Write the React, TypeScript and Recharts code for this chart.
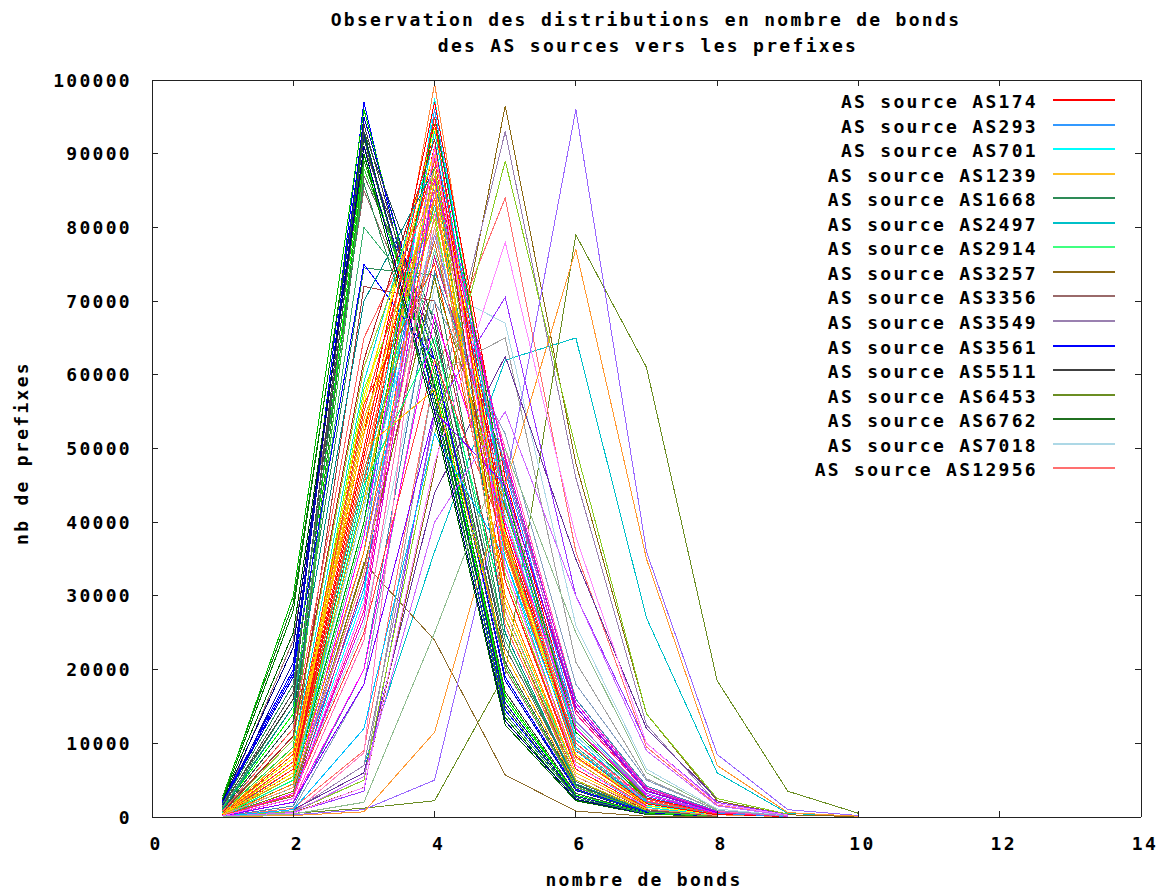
import React from 'react';
import { LineChart, Line, XAxis, YAxis, Legend } from 'recharts';

const hops = [1, 2, 3, 4, 5, 6, 7, 8, 9, 10, 11];
const xTicks = [0, 2, 4, 6, 8, 10, 12, 14];
const yTicks = [0, 10000, 20000, 30000, 40000, 50000, 60000, 70000, 80000, 90000, 100000];

const titleLines = ['Observation des distributions en nombre de bonds', 'des AS sources vers les prefixes'];
const xLabel = 'nombre de bonds';
const yLabel = 'nb de prefixes';

const legendNames = [
  'AS source AS174', 'AS source AS293', 'AS source AS701', 'AS source AS1239',
  'AS source AS1668', 'AS source AS2497', 'AS source AS2914', 'AS source AS3257',
  'AS source AS3356', 'AS source AS3549', 'AS source AS3561', 'AS source AS5511',
  'AS source AS6453', 'AS source AS6762', 'AS source AS7018', 'AS source AS12956',
];
const legendColors = [
  '#ff0000', '#3399ff', '#00ffff', '#ffc125', '#2e8b57', '#00c0c8', '#40ff80', '#8b6914',
  '#9a6a6a', '#9a80b0', '#0000ff', '#404040', '#6b8e23', '#207020', '#add8e6', '#ff7070',
];
const legendValues = [
  [400, 6000, 45000, 94000, 40000, 9500, 2000, 400, 80],
  [300, 4500, 36000, 96000, 43000, 11000, 2500, 500, 100],
  [200, 3000, 30000, 97500, 41000, 9000, 1600, 300],
  [450, 5500, 42000, 90000, 37000, 8000, 1800, 300],
  [1200, 16000, 74500, 73500, 24000, 4500, 800, 120],
  [100, 800, 7000, 36000, 62000, 65000, 27000, 6000, 500, 50],
  [300, 5000, 40000, 88000, 38000, 9000, 2000, 350],
  [100, 600, 4000, 47000, 96500, 48000, 14000, 2200, 300, 50],
  [1500, 24000, 85000, 62000, 20000, 4000, 700, 100],
  [100, 800, 7000, 54000, 93000, 46000, 12500, 1800, 250],
  [2200, 20000, 97000, 56000, 14500, 2800, 450, 80],
  [1700, 16000, 94000, 60000, 17000, 3200, 550, 100],
  [50, 500, 1200, 2200, 19500, 79000, 61000, 18500, 3500, 500],
  [2800, 29000, 92000, 58000, 15000, 2600, 400, 60],
  [300, 3000, 26000, 72000, 67000, 26000, 6500, 1100, 150],
  [100, 1200, 9000, 60000, 84000, 36000, 9500, 1600, 200],
];

const extraColors = [
  '#00c000', '#008000', '#0000cc', '#505050', '#00ff00', '#228b22', '#606060', '#1010a0',
  '#32cd32', '#a04040', '#2f4f4f', '#8b6b2b', '#3cb371', '#0000ff', '#7fff00',
  '#ff8c40', '#ff0000', '#ff00ff', '#ffff00', '#00e0e0', '#1e90ff', '#ff1493', '#9acd32',
  '#ff6347', '#4169e1', '#ba55d3', '#ffa500', '#20b2aa', '#ff69b4', '#daa520', '#87ceeb',
  '#9370db', '#d2691e', '#66cdaa', '#c71585', '#ff4500', '#4682b4', '#808000', '#87a0c0',
  '#ff80c0', '#a0a0a0', '#9933ff', '#663399', '#ff88ff', '#88cc22', '#9966ff', '#ff9933',
  '#ff0000', '#00a000', '#ff3030', '#e000e0', '#ffd700', '#00ced1',
  '#ff00ff', '#00ff7f', '#ff4040', '#ffb000', '#8000ff', '#00bfff', '#ff6060', '#008b8b',
  '#b22222', '#ff8000', '#c0c000', '#006400', '#000080', '#2e8b57', '#cc66ff', '#8fbc8f',
  '#e9967a', '#ff2020', '#ff60ff', '#ffcc00',
];
const extraValues = [
  [2600, 30000, 96000, 60000, 16500, 3000, 500, 80],
  [2400, 28000, 93000, 57000, 13500, 2300, 350],
  [1900, 19000, 95000, 62000, 18500, 3600, 600, 100],
  [1400, 17000, 91000, 64000, 21000, 4300, 750, 120],
  [1100, 14000, 90000, 59000, 16000, 3000, 500],
  [900, 12000, 89000, 61000, 19000, 3700, 650],
  [800, 11000, 87000, 66000, 23000, 4800, 850, 130],
  [1600, 21000, 92500, 58500, 15500, 2800, 450],
  [700, 9500, 88000, 63000, 20500, 4100, 700, 100],
  [600, 8000, 72000, 70000, 27000, 5500, 1000, 150],
  [1000, 13000, 93000, 67000, 22000, 4400, 800],
  [300, 2800, 34500, 24000, 5700, 800, 100, 0],
  [1300, 15000, 80000, 68000, 24000, 5000, 900],
  [2000, 19500, 75000, 62000, 19000, 3800, 700],
  [500, 7000, 58000, 82000, 30000, 6000, 1100],
  [200, 5000, 45000, 99500, 41000, 9200, 1900, 300, 50],
  [350, 6500, 52000, 97000, 46000, 12000, 2600, 400, 60],
  [150, 3200, 38000, 95000, 43000, 10500, 2100, 300],
  [450, 8000, 56000, 93500, 38500, 8200, 1500, 250],
  [550, 9000, 59000, 92000, 35000, 7000, 1300, 200],
  [200, 4000, 31000, 91000, 47000, 13000, 3000, 500, 80],
  [100, 2500, 28000, 89500, 48500, 14000, 3500, 600, 100],
  [650, 10500, 61000, 88000, 33000, 6500, 1200],
  [300, 5500, 48000, 87000, 40000, 10500, 2200, 350],
  [200, 4500, 40000, 86000, 44500, 12000, 2800, 450],
  [150, 3500, 33000, 85000, 47500, 15000, 3800, 700, 120],
  [400, 7000, 52000, 84000, 36000, 8500, 1600],
  [250, 6500, 46000, 83000, 39000, 9500, 2000, 300],
  [100, 2000, 24000, 82000, 50000, 16000, 4000, 800, 150],
  [350, 7500, 54000, 81000, 34000, 7500, 1400],
  [200, 5000, 42000, 80000, 41000, 11000, 2400, 400],
  [100, 3000, 36000, 79000, 43000, 13000, 3200, 550],
  [300, 6000, 47000, 78000, 37000, 9000, 1900],
  [200, 4000, 39000, 77000, 40000, 12500, 3000, 500],
  [150, 2500, 32000, 76000, 45000, 14500, 3600, 650],
  [500, 8500, 56000, 75000, 32000, 7000, 1500],
  [100, 1500, 20000, 74000, 48000, 16000, 4200, 800],
  [200, 3500, 34000, 73000, 42000, 12000, 2600],
  [100, 1000, 18000, 70000, 52000, 18000, 5000, 900, 150],
  [50, 500, 8700, 90000, 45000, 10000, 2000],
  [50, 800, 5000, 60000, 65000, 21000, 5200, 900],
  [100, 600, 3500, 55000, 70500, 30000, 10000, 2000, 300],
  [100, 1000, 6000, 44000, 62500, 35000, 12000, 2500, 400],
  [100, 500, 4000, 48000, 78000, 38000, 10000, 1800, 250],
  [100, 700, 5000, 52000, 89000, 50000, 14000, 2500, 400],
  [50, 300, 1000, 5000, 45000, 96000, 36000, 8500, 1000, 200],
  [50, 200, 700, 11500, 45000, 77000, 35000, 7000, 600, 100],
  [300, 6000, 49000, 91000, 39000, 9000, 1800, 300],
  [250, 4500, 40000, 95000, 44000, 11500, 2400],
  [400, 7500, 55000, 89000, 36500, 8200, 1600],
  [150, 3000, 27000, 86500, 49000, 15500, 3900, 700],
  [350, 6000, 57000, 90500, 37500, 8500, 1700],
  [200, 4000, 44000, 93000, 42500, 10500, 2200],
  [100, 2000, 20000, 68000, 40000, 12000, 3000, 500],
  [300, 5000, 45000, 65000, 28000, 6000, 1200],
  [200, 3000, 25000, 62000, 38000, 10000, 2400, 400],
  [500, 9000, 50000, 58000, 22000, 4500, 900],
  [150, 2000, 18000, 55000, 45000, 15000, 3500, 600],
  [100, 1000, 12000, 52000, 35000, 9000, 2000],
  [800, 12000, 65000, 85000, 26000, 5000, 900],
  [1000, 15000, 70000, 88000, 25000, 4500, 800],
  [600, 11000, 62000, 92000, 28000, 5500, 1000],
  [200, 4500, 36000, 84000, 30000, 6000, 1200],
  [250, 5500, 43000, 88000, 27000, 5000, 900],
  [2300, 25000, 90000, 54000, 12500, 2200, 350],
  [2100, 23000, 91000, 55000, 13000, 2400, 400],
  [1800, 18000, 86000, 56000, 14000, 2600, 450],
  [100, 600, 5500, 40000, 55000, 30000, 9000, 1500, 200],
  [50, 400, 2000, 25000, 50000, 25000, 6000, 1000],
  [300, 4000, 33000, 80000, 28000, 5500, 1100, 200],
  [400, 6500, 50000, 95000, 32000, 6500, 1200],
  [150, 2500, 29000, 91000, 34000, 7000, 1400],
  [350, 7000, 53000, 86000, 29000, 6000, 1100],
];

const allValues = [...legendValues, ...extraValues];
const allColors = [...legendColors, ...extraColors];

const data = hops.map((h, i) => {
  const row: Record<string, number> = { x: h };
  allValues.forEach((vals, s) => {
    if (i < vals.length) row['s' + s] = vals[i];
  });
  return row;
});

const FONT = '"DejaVu Sans Mono", monospace';
const textStyle = { fontFamily: FONT, fontWeight: 'bold' as const, fontSize: 18, letterSpacing: 2.3, fill: '#000' };

const BottomTick = (p: any) => (
  <text x={p.x + 4} y={p.y + 39} textAnchor="middle" style={textStyle}>{p.payload.value}</text>
);
const LeftTick = (p: any) => (
  <text x={p.x - 26} y={p.y + 6.5} textAnchor="end" style={textStyle}>{p.payload.value}</text>
);
const EmptyTick = () => <g />;

const LegendBox = () => (
  <svg width={360} height={400} style={{ overflow: 'visible' }}>
    {legendNames.map((name, i) => (
      <g key={name}>
        <text x={258} y={20 + 24.55 * i} textAnchor="end" style={textStyle}>{name}</text>
        <line x1={273} x2={335} y1={12 + 24.55 * i} y2={12 + 24.55 * i} stroke={legendColors[i]} strokeWidth={2} />
      </g>
    ))}
  </svg>
);

const axisStroke = { stroke: '#222', strokeWidth: 1 };

export default function App() {
  return (
    <div style={{ position: 'absolute', left: 0, top: 0, width: 1168, height: 890, background: '#fff', shapeRendering: 'crispEdges' as any }}>
      <LineChart width={1168} height={890} data={data} margin={{ top: 70, right: 17, bottom: 33, left: 92 }}>
        <XAxis type="number" dataKey="x" domain={[0, 14]} ticks={xTicks} interval={0} height={40}
          tickSize={-6} tickMargin={0} tick={BottomTick} axisLine={axisStroke} tickLine={axisStroke} />
        <XAxis xAxisId="top" orientation="top" type="number" dataKey="x" domain={[0, 14]} ticks={xTicks} interval={0} height={10}
          tickSize={-6} tick={EmptyTick} axisLine={axisStroke} tickLine={axisStroke} />
        <YAxis type="number" domain={[0, 100000]} ticks={yTicks} interval={0} width={60}
          tickSize={-6} tickMargin={0} tick={LeftTick} axisLine={axisStroke} tickLine={axisStroke} />
        <YAxis yAxisId="right" orientation="right" type="number" domain={[0, 100000]} ticks={yTicks} interval={0} width={10}
          tickSize={-6} tick={EmptyTick} axisLine={axisStroke} tickLine={axisStroke} />
        <Legend layout="vertical" align="center" verticalAlign="middle"
          wrapperStyle={{ left: 780, top: 88, width: 360, height: 400 }} content={() => <LegendBox />} />
        <Line xAxisId="top" yAxisId="right" dataKey="s0" stroke="none" dot={false} activeDot={false}
          isAnimationActive={false} legendType="none" />
        {allValues.map((_, s) => (
          <Line key={s} type="linear" dataKey={'s' + s} stroke={allColors[s]} strokeWidth={1}
            dot={false} activeDot={false} isAnimationActive={false} legendType="none" />
        ))}
      </LineChart>
      <svg width={1168} height={890} style={{ position: 'absolute', left: 0, top: 0, pointerEvents: 'none' }}>
        <text x={646} y={26} textAnchor="middle" style={textStyle}>{titleLines[0]}</text>
        <text x={648} y={52} textAnchor="middle" style={textStyle}>{titleLines[1]}</text>
        <text x={644} y={886} textAnchor="middle" style={textStyle}>{xLabel}</text>
        <text x={28} y={453} textAnchor="middle" transform="rotate(-90 28 453)" style={textStyle}>{yLabel}</text>
      </svg>
    </div>
  );
}
